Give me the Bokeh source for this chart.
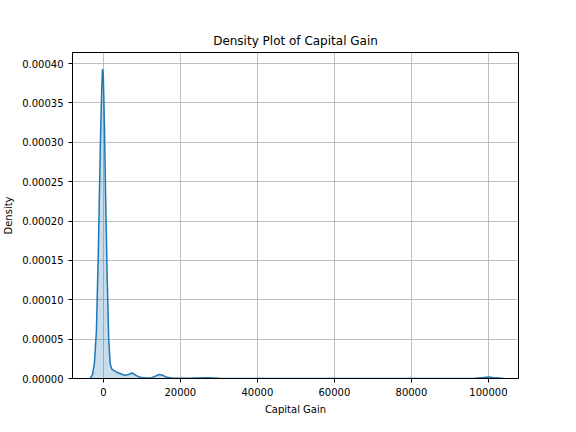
from bokeh.plotting import figure
from bokeh.models import NumeralTickFormatter, FixedTicker
from bokeh.embed import file_html
from bokeh.resources import INLINE

# density curve
gain = [-3400, -2800, -2300, -1800, -1300, -800, -400, -200, 0, 300, 600, 1000,
        1400, 1800, 2200, 2800, 3500, 4500, 5500, 6500, 7500, 8500, 9500,
        11000, 12500, 13500, 14500, 15500, 16500, 18000, 22000, 27000, 30000,
        40000, 60000, 80000, 96000, 98000, 100000, 102000, 104000]
dens = [0.0, 0.000005, 0.00002, 0.00006, 0.00016, 0.00029, 0.00037, 0.000393,
        0.000385, 0.00032, 0.00023, 0.00013, 0.00005, 0.000018, 0.000012,
        0.000010, 0.000008, 0.000006, 0.000004, 0.000005, 0.000007, 0.000004,
        0.0000015, 0.0000005, 0.000001, 0.000003, 0.000005, 0.000004,
        0.0000015, 0.0000003, 0.0000003, 0.0000008, 0.0000002, 0.0, 0.0, 0.0,
        0.0, 0.0000008, 0.000002, 0.0000008, 0.0]
xticks = [0, 20000, 40000, 60000, 80000, 100000]
yticks = [i * 0.00005 for i in range(9)]

p = figure(width=560, height=416, output_backend="svg", toolbar_location=None,
           x_range=(-8000, 107800), y_range=(0, 0.000414),
           title="Density Plot of Capital Gain",
           x_axis_label="Capital Gain", y_axis_label="Density",
           min_border_left=64, min_border_right=50, min_border_top=52,
           min_border_bottom=38)
p.frame_width = 446
p.frame_height = 326

p.varea(x=gain, y1=0, y2=dens, fill_color="#1f77b4", fill_alpha=0.25)
p.line(gain, dens, line_color="#1f77b4", line_width=1.5)

p.title.align = "center"
p.title.text_font = "DejaVu Sans"
p.title.text_font_size = "12px"
p.title.text_font_style = "normal"
p.title.text_color = "black"
for ax in (p.xaxis, p.yaxis):
    ax.axis_label_text_font = "DejaVu Sans"
    ax.axis_label_text_font_size = "10px"
    ax.axis_label_text_font_style = "normal"
    ax.axis_label_text_color = "black"
    ax.major_label_text_font = "DejaVu Sans"
    ax.major_label_text_font_size = "10px"
    ax.major_label_text_color = "black"
    ax.minor_tick_line_color = None
    ax.major_tick_in = 0
    ax.major_tick_out = 4
    ax.axis_line_color = "black"
    ax.major_tick_line_color = "black"
p.xaxis.ticker = FixedTicker(ticks=xticks)
p.yaxis.ticker = FixedTicker(ticks=yticks)
p.xaxis.formatter = NumeralTickFormatter(format="0")
p.yaxis.formatter = NumeralTickFormatter(format="0.00000")
p.grid.grid_line_color = "#b0b0b0"
p.grid.grid_line_width = 0.8
p.outline_line_color = "black"

open("out.html", "w").write(file_html(p, INLINE))
